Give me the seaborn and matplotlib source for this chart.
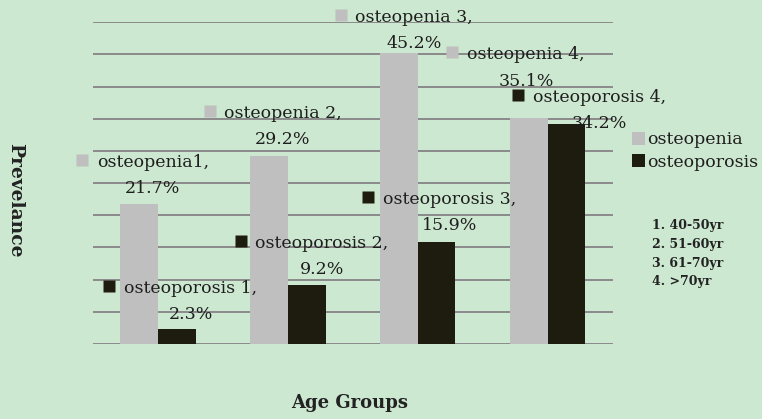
import seaborn as sns
import pandas as pd
import matplotlib.pyplot as plt
import matplotlib.transforms as mtransforms
from matplotlib.patches import Patch

# data
groups = ['1', '2', '3', '4']
osteopenia = [21.7, 29.2, 45.2, 35.1]
osteoporosis = [2.3, 9.2, 15.9, 34.2]
age_notes = ['1. 40-50yr', '2. 51-60yr', '3. 61-70yr', '4. >70yr']

bg = '#cde8d1'
colors = {'osteopenia': '#bfbfbf', 'osteoporosis': '#1e1b0f'}

df = pd.DataFrame({
    'group': groups * 2,
    'series': ['osteopenia'] * 4 + ['osteoporosis'] * 4,
    'value': osteopenia + osteoporosis,
})

sns.set_style('white')
plt.rcParams['font.family'] = ['DejaVu Serif', 'DejaVu Sans']

fig = plt.figure(figsize=(7.62, 4.19), dpi=100, facecolor=bg)
ax = fig.add_axes([0.122, 0.179, 0.682, 0.768])
ax.set_facecolor(bg)

sns.barplot(data=df, x='group', y='value', hue='series', palette=colors,
            width=0.58, gap=0, ax=ax, legend=False, saturation=1, linewidth=0)

ax.set_ylim(0, 50)
ax.set_xlim(-0.5, 3.5)
ax.set_yticks(range(0, 51, 5))
ax.yaxis.grid(True, color='#8a8a8a', linewidth=1.4)
ax.set_axisbelow(True)
ax.set_xticks([])
ax.tick_params(left=False, labelleft=False)
for s in ax.spines.values():
    s.set_visible(False)
ax.set_xlabel('')
ax.set_ylabel('')

# data labels: offset of the square key (x in category units, y in %) from bar top
label_pos = {
    ('osteopenia', 0): (-0.48, 6.9), ('osteopenia', 1): (-0.50, 7.0),
    ('osteopenia', 2): (-0.49, 5.9), ('osteopenia', 3): (-0.63, 10.2),
    ('osteoporosis', 0): (-0.56, 6.7), ('osteoporosis', 1): (-0.55, 6.8),
    ('osteoporosis', 2): (-0.57, 6.9), ('osteoporosis', 3): (-0.415, 4.5),
}
names = {'osteopenia': ['osteopenia1,', 'osteopenia 2,', 'osteopenia 3,', 'osteopenia 4,'],
         'osteoporosis': ['osteoporosis 1,', 'osteoporosis 2,', 'osteoporosis 3,', 'osteoporosis 4,']}
vals = {'osteopenia': osteopenia, 'osteoporosis': osteoporosis}
shift = {'osteopenia': -0.145, 'osteoporosis': 0.145}
lift = ax.transData + mtransforms.ScaledTranslation(0, 6 / 100, fig.dpi_scale_trans)
for ser in ['osteopenia', 'osteoporosis']:
    for i in range(4):
        dx, dy = label_pos[(ser, i)]
        x0 = i + shift[ser] + dx
        y0 = vals[ser][i] + dy
        ax.plot(x0 + 0.042, y0, marker='s', ms=8.5, color=colors[ser],
                mec='none', clip_on=False)
        ax.text(x0 + 0.155, y0, names[ser][i] + '\n' + f'{vals[ser][i]}%',
                fontsize=12.5, va='top', ha='left', multialignment='center',
                linespacing=1.7, color='#1e1e1e', transform=lift)

# legend
handles = [Patch(facecolor=colors[s], edgecolor='none', label=s)
           for s in ['osteopenia', 'osteoporosis']]
fig.legend(handles=handles, loc='center left', bbox_to_anchor=(632 / 762, 1 - 151 / 419),
           frameon=False, fontsize=12.5, handlelength=0.75, handleheight=0.75,
           handletextpad=0.15, labelspacing=0.3, borderpad=0, borderaxespad=0,
           labelcolor='#1e1e1e')

for k, note in enumerate(age_notes):
    fig.text(652 / 762, 1 - (225 + k * 19) / 419, note, fontsize=9,
             fontweight='bold', va='center', ha='left', color='#222222')

fig.text(15 / 762, 1 - 200 / 419, 'Prevelance', rotation=270, fontsize=13.5,
         fontweight='bold', va='center', ha='center', color='#222222')
fig.text(350 / 762, 1 - 403 / 419, 'Age Groups', fontsize=13,
         fontweight='bold', va='center', ha='center', color='#222222')

fig.savefig('out.png', dpi=100, facecolor=bg)
